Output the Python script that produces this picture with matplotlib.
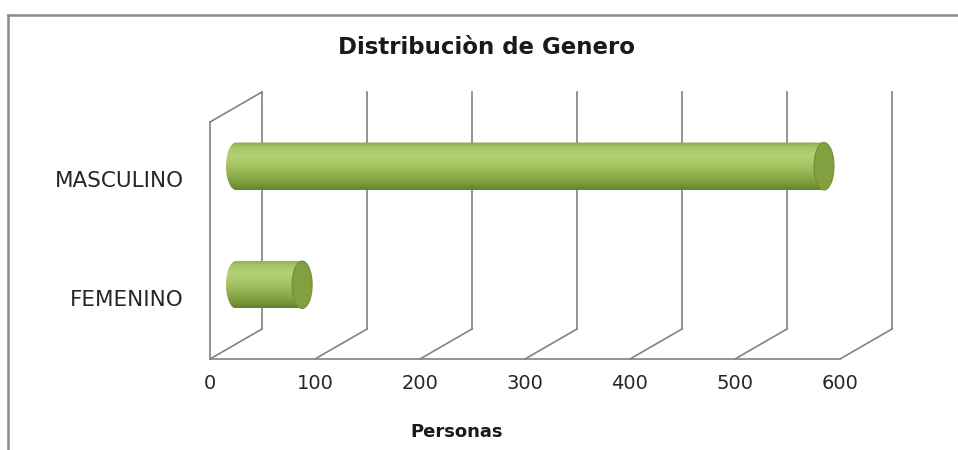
import numpy as np
import matplotlib
matplotlib.use("Agg")
import matplotlib.pyplot as plt
from matplotlib.colors import LinearSegmentedColormap
from matplotlib.patches import Polygon, Ellipse
from matplotlib.lines import Line2D

categories = ["FEMENINO", "MASCULINO"]
personas = [63, 560]
ticks = [0, 100, 200, 300, 400, 500, 600]

plt.rcParams['font.family'] = ['DejaVu Sans']

W, H = 958, 450
fig = plt.figure(figsize=(W / 100, H / 100), dpi=100)

# front plane of the fake 3d box
ax = fig.add_axes([210 / W, 91 / H, 630 / W, 237 / H])
ax.set_xlim(0, 600)
ax.set_ylim(-0.5, 1.5)
ax.axis("off")

# depth of the box in data units (52px right, 30px up)
DX = 52 * 600 / 630
DY = 30 * 2 / 237
grid_c = "#828282"
lw = 1.2

y0, y1 = -0.5, 1.5
# back wall gridlines + floor diagonals
for t in ticks:
    ax.plot([t + DX, t + DX], [y0 + DY, y1 + DY], color=grid_c, lw=lw, clip_on=False)
    ax.plot([t, t + DX], [y0, y0 + DY], color=grid_c, lw=lw, clip_on=False)
# floor front edge, left wall
ax.plot([0, 600], [y0, y0], color=grid_c, lw=lw, clip_on=False)
ax.plot([0, 0], [y0, y1], color=grid_c, lw=lw, clip_on=False)
ax.plot([0, DX], [y1, y1 + DY], color=grid_c, lw=lw, clip_on=False)

# cylinders
cmap = LinearSegmentedColormap.from_list(
    "cyl", [(0.0, "#62802a"), (0.12, "#7a9838"), (0.45, "#a0bf5c"),
            (0.72, "#b4d274"), (0.9, "#a5c462"), (1.0, "#89a745")])
grad = np.linspace(0, 1, 256).reshape(-1, 1)
h = 0.2
a = 9.5
th = np.linspace(np.pi / 2, 3 * np.pi / 2, 40)
for i, v in enumerate(personas):
    yc = i + DY / 2
    xs = DX / 2
    xe = v + DX / 2
    pts = [(xs + a * np.cos(t), yc + h * np.sin(t)) for t in th]
    pts += [(xe, yc - h), (xe, yc + h)]
    body = Polygon(pts, closed=True, transform=ax.transData, facecolor="none",
                   edgecolor="none")
    ax.add_patch(body)
    im = ax.imshow(grad, cmap=cmap, aspect="auto", origin="lower",
                   extent=[xs - a, xe, yc - h, yc + h], zorder=3)
    im.set_clip_path(body)
    cap = Ellipse((xe, yc), 2 * a, 2 * h, facecolor="#82a040",
                  edgecolor="#728f36", lw=0.8, zorder=4)
    ax.add_patch(cap)

ax.set_xlim(0, 600)
ax.set_ylim(-0.5, 1.5)

# labels
for i, c in enumerate(categories):
    ax.text(-26 * 600 / 630, i, c, ha="right", va="center", fontsize=15.5,
            color="#262626")
for t in ticks:
    ax.text(t, y0 - 0.205, str(t), ha="center", va="center", fontsize=14,
            color="#262626")

fig.text(486 / W, 1 - 47 / H, "Distribuciòn de Genero", ha="center", va="center",
         fontsize=16.5, fontweight="bold", color="#1a1a1a")
fig.text(457 / W, 1 - 432 / H, "Personas", ha="center", va="center",
         fontsize=13, fontweight="bold", color="#1a1a1a")

# chart border
fig.add_artist(Line2D([8 / W, 8 / W], [0, 1 - 15 / H], color="#8a8a8a", lw=1.8))
fig.add_artist(Line2D([8 / W, 1], [1 - 15 / H, 1 - 15 / H], color="#8a8a8a", lw=1.8))

fig.savefig("out.png", dpi=100)
